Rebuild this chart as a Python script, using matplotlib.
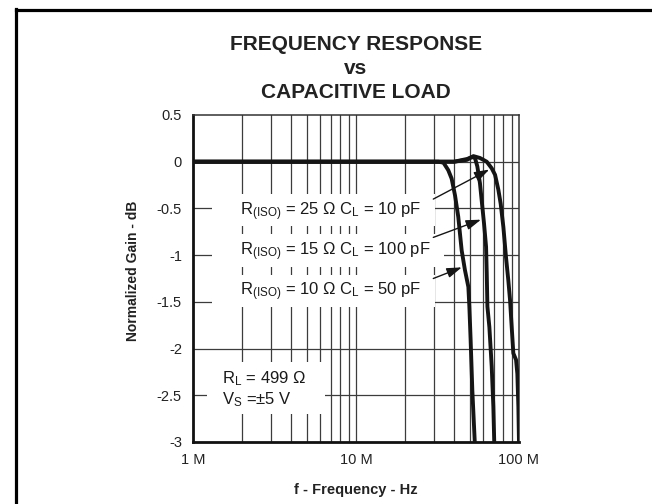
import numpy as np
import matplotlib
matplotlib.use("Agg")
import matplotlib.pyplot as plt
from matplotlib.lines import Line2D
from matplotlib.path import Path

plt.rcParams["font.family"] = ["Liberation Sans", "DejaVu Sans"]
plt.rcParams["mathtext.default"] = "regular"

# ---- data: normalized gain (dB) vs frequency (MHz) ----
freq_10pf = [1, 30, 40, 48, 52.5, 57.6, 63.4, 68.0, 71.3, 74.7, 77.2, 80.2, 83.2,
             86.0, 88.1, 90.2, 92.3, 95.9, 97.7, 99.1, 100.0]
gain_10pf = [0, 0, 0, 0.02, 0.06, 0.04, 0.0, -0.07, -0.14, -0.30, -0.45, -0.70, -1.02,
             -1.27, -1.48, -1.77, -2.05, -2.12, -2.27, -2.62, -3.01]

freq_100pf = [1, 30, 40, 48.2, 51.3, 53.7, 55.5, 57.6, 59.0, 61.0, 62.8, 63.4, 64.0,
              65.8, 68.0, 69.6, 70.6]
gain_100pf = [0, 0, 0, 0.03, 0.05, 0.04, -0.05, -0.23, -0.41, -0.66, -0.91, -1.19, -1.55,
              -1.77, -2.19, -2.62, -3.05]

freq_50pf = [1, 30, 32.0, 34.4, 36.8, 38.6, 40.5, 42.4, 44.5, 46.6, 48.9, 49.6, 50.5,
             51.7, 53.7]
gain_50pf = [0, 0, 0, -0.01, -0.09, -0.18, -0.36, -0.59, -0.95, -1.16, -1.34, -1.55, -1.91,
             -2.44, -3.05]

x_ticks = [1, 10, 100]
x_tick_labels = ["1 M", "10 M", "100 M"]
y_ticks = [0.5, 0, -0.5, -1, -1.5, -2, -2.5, -3]
y_tick_labels = ["0.5", "0", "-0.5", "-1", "-1.5", "-2", "-2.5", "-3"]

curve_labels = [
    r"R$_{(ISO)}$ = 25 $\Omega$ C$_{L}$ = 10 pF",
    r"R$_{(ISO)}$ = 15 $\Omega$ C$_{L}$ = 100 pF",
    r"R$_{(ISO)}$ = 10 $\Omega$ C$_{L}$ = 50 pF",
]
conditions = "R$_{L}$ = 499 $\\Omega$\nV$_{S}$ =\u00b15 V"

# ---- figure ----
W, H = 652, 504
fig = plt.figure(figsize=(W / 100, H / 100), dpi=100)
fig.patch.set_facecolor("white")

ax_l, ax_r, ax_t, ax_b = 193, 519, 115, 442
ax = fig.add_axes([ax_l / W, 1 - ax_b / H, (ax_r - ax_l) / W, (ax_b - ax_t) / H])

ax.set_xscale("log")
ax.set_xlim(1, 100)
ax.set_ylim(-3, 0.5)

ax.set_xticks(x_ticks)
ax.set_xticklabels(x_tick_labels)
ax.set_xticks([], minor=True)
ax.set_yticks(y_ticks)
ax.set_yticklabels(y_tick_labels)
ax.tick_params(axis="both", which="both", length=0, labelsize=10.5, colors="#222222")
ax.tick_params(axis="y", pad=8)
ax.tick_params(axis="x", pad=8)

# grid: every decade subdivision and every 0.5 dB
grid_kw = dict(color="#3c3c3c", lw=0.9, zorder=0.5)
for dec in (1, 10):
    for m in range(1, 10):
        if dec * m > 1:
            ax.axvline(dec * m, **grid_kw)
for yv in y_ticks:
    if -3 < yv < 0.5:
        ax.axhline(yv, **grid_kw)

for side in ("left", "bottom"):
    ax.spines[side].set_linewidth(2.0)
    ax.spines[side].set_color("#111111")
for side in ("top", "right"):
    ax.spines[side].set_linewidth(1.1)
    ax.spines[side].set_color("#333333")

curve_kw = dict(color="#151515", lw=2.8, solid_joinstyle="round",
                solid_capstyle="butt", zorder=5, clip_on=True)
ax.plot(freq_50pf, gain_50pf, **curve_kw)
ax.plot(freq_100pf, gain_100pf, **curve_kw)
ax.plot(freq_10pf, gain_10pf, **curve_kw)


def side_padded_box(left, right, bottom, top):
    """Rectangular text box with independent padding per side (in font sizes)."""
    def box(x0, y0, width, height, mutation_size):
        xa = x0 - left * mutation_size
        xb = x0 + width + right * mutation_size
        ya = y0 - bottom * mutation_size
        yb = y0 + height + top * mutation_size
        verts = [(xa, ya), (xb, ya), (xb, yb), (xa, yb), (xa, ya)]
        codes = [Path.MOVETO] + [Path.LINETO] * 3 + [Path.CLOSEPOLY]
        return Path(verts, codes)
    return box


label_size = 12
label_x = 1.94
label_y = [-0.57, -1.0, -1.43]
for text, yv in zip(curve_labels, label_y):
    ax.text(label_x, yv, text, fontsize=label_size, ha="left", va="baseline",
            color="#1a1a1a", zorder=3,
            bbox=dict(boxstyle=side_padded_box(1.65, 0.8, 0.22, 0.35),
                      fc="white", ec="none"))

ax.text(1.51, -2.60, conditions, fontsize=label_size, ha="left", va="baseline",
        linespacing=1.2, color="#1a1a1a", zorder=3,
        bbox=dict(boxstyle=side_padded_box(0.9, 1.1, 0.28, 0.4),
                  fc="white", ec="none"))

# arrows from each label to its curve
arrow_tail_f = 29.8
arrow_tail_g = [-0.40, -0.81, -1.25]
arrow_head_g = [-0.07, -0.61, -1.12]
curves = [(freq_10pf, gain_10pf), (freq_100pf, gain_100pf), (freq_50pf, gain_50pf)]
for (fr, gn), tg, hg in zip(curves, arrow_tail_g, arrow_head_g):
    fr_a = np.array(fr, float)
    gn_a = np.array(gn, float)
    start = np.argmax(gn_a < 0.0)
    seg_f, seg_g = fr_a[start - 1:], gn_a[start - 1:]
    head_f = np.interp(hg, seg_g[::-1], seg_f[::-1])
    ax.annotate("", xy=(head_f, hg), xytext=(arrow_tail_f, tg), zorder=6,
                arrowprops=dict(arrowstyle="-|>,head_length=0.9,head_width=0.3",
                                mutation_scale=10, lw=1.0, color="#151515",
                                shrinkA=0, shrinkB=2))

# titles and axis labels
fig.text(356 / W, 1 - 68.5 / H, "FREQUENCY RESPONSE\nvs\nCAPACITIVE LOAD",
         ha="center", va="center", fontsize=15, fontweight="bold",
         linespacing=1.3, color="#222222")
fig.text(133 / W, 1 - 271 / H, "Normalized Gain - dB", rotation=90,
         ha="center", va="center", fontsize=10, fontweight="bold", color="#222222")
fig.text(356 / W, 1 - 490 / H, "f - Frequency - Hz", ha="center", va="center",
         fontsize=10.5, fontweight="bold", color="#222222")

# outer frame (top and left edges)
fig.add_artist(Line2D([15.5 / W, 1.0], [1 - 9.5 / H, 1 - 9.5 / H],
                      transform=fig.transFigure, color="black", lw=2.3))
fig.add_artist(Line2D([16.0 / W, 16.0 / W], [1 - 8.5 / H, 0.0],
                      transform=fig.transFigure, color="black", lw=2.3))

fig.savefig("out.png", dpi=100, facecolor="white")
